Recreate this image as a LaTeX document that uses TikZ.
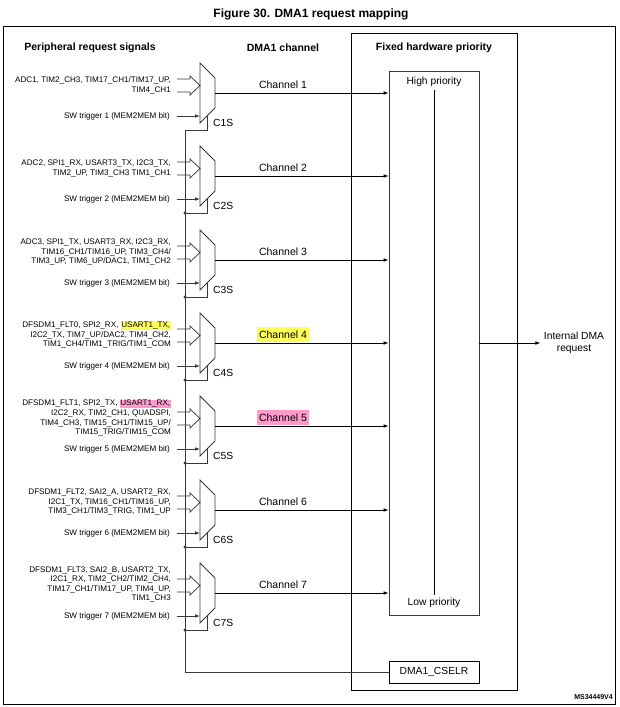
\documentclass[tikz,border=0pt]{standalone}
\usepackage{fontspec}
\setmainfont{Liberation Sans}
\usetikzlibrary{arrows.meta,calc,positioning}

\definecolor{hlyellow}{HTML}{FFFF55}
\definecolor{hlpink}{HTML}{FF99CC}
\definecolor{wiregray}{gray}{0.22}
\newcommand{\hlbox}[2]{{\setlength{\fboxsep}{0.6pt}\colorbox{#1}{#2}}}

\tikzset{
  sigtext/.style={font=\fontsize{8.1}{9.6}\selectfont, align=right, anchor=east, inner sep=0pt},
  chantext/.style={font=\fontsize{10.5}{12}\selectfont, inner xsep=2.5pt, inner ysep=0pt, minimum height=15pt},
  head/.style={font=\bfseries\fontsize{10.5}{12}\selectfont},
  plain/.style={font=\fontsize{10.3}{12.5}\selectfont},
  wire/.style={draw=wiregray, line width=0.75pt},
  tip/.style={-{Latex[length=5pt,width=3.6pt]}},
}

\begin{document}
\begin{tikzpicture}[x=1pt,y=-1pt]
\useasboundingbox (0,0) rectangle (620,707);

% Title and frame
\node[font=\bfseries\fontsize{12}{14}\selectfont] (title) at (311,14) {Figure 30. DMA1 request mapping};
\draw[line width=0.8pt] (3,26) rectangle (615,704);

% Column headings
\node[head] (hsig) at (90,48) {Peripheral request signals};
\node[head] (hchan) at (283,48) {DMA1 channel};
\node[head] (hprio) at (434,48) {Fixed hardware priority};

% Priority block
\draw[line width=0.7pt] (351,33) rectangle (517,690);
\node[wire, minimum width=90pt, minimum height=544pt, inner sep=0pt] (prio) at (434,343) {};
\node[plain] (high) at (434,82) {High priority};
\node[plain] (low) at (434,603) {Low priority};
\draw (high.south) -- (low.north);
\node[draw, line width=0.7pt, minimum width=90pt, minimum height=22pt, plain] (cselr) at (434,672) {DMA1\_CSELR};

% Output request
\node[plain, align=center] (req) at (574,343) {Internal DMA\\request};
\draw[tip, line width=0.7pt] (prio.east) -- (req.west);

% Peripheral requests
\node[sigtext] (sig1) at (171,85.5) {ADC1, TIM2\_CH3, TIM17\_CH1/TIM17\_UP,\\TIM4\_CH1};
\node[sigtext] (sig2) at (171,168.5) {ADC2, SPI1\_RX, USART3\_TX, I2C3\_TX,\\TIM2\_UP, TIM3\_CH3 TIM1\_CH1};
\node[sigtext] (sig3) at (171,252) {ADC3, SPI1\_TX, USART3\_RX, I2C3\_RX,\\TIM16\_CH1/TIM16\_UP, TIM3\_CH4/\\TIM3\_UP, TIM6\_UP/DAC1, TIM1\_CH2};
\node[sigtext] (sig4) at (171,335) {DFSDM1\_FLT0, SPI2\_RX, \hlbox{hlyellow}{USART1\_TX,}\\I2C2\_TX, TIM7\_UP/DAC2, TIM4\_CH2,\\TIM1\_CH4/TIM1\_TRIG/TIM1\_COM};
\node[sigtext] (sig5) at (171,418) {DFSDM1\_FLT1, SPI2\_TX, \hlbox{hlpink}{USART1\_RX,}\\I2C2\_RX, TIM2\_CH1, QUADSPI,\\TIM4\_CH3, TIM15\_CH1/TIM15\_UP/\\TIM15\_TRIG/TIM15\_COM};
\node[sigtext] (sig6) at (171,502) {DFSDM1\_FLT2, SAI2\_A, USART2\_RX,\\I2C1\_TX, TIM16\_CH1/TIM16\_UP,\\TIM3\_CH1/TIM3\_TRIG, TIM1\_UP};
\node[sigtext] (sig7) at (171,584.5) {DFSDM1\_FLT3, SAI2\_B, USART2\_TX,\\I2C1\_RX, TIM2\_CH2/TIM2\_CH4,\\TIM17\_CH1/TIM17\_UP, TIM4\_UP,\\TIM1\_CH3};

% Channel muxes
\foreach \i/\c/\hl in {1/93/white,2/176/white,3/260/white,4/343/hlyellow,5/426/hlpink,6/510/white,7/593/white} {
  \draw[wire] (200,\c-30) -- (215,\c-15) -- (215,\c+15) -- (200,\c+30) -- cycle;
  \draw[wire] (177,\c-14) -- (190,\c-14) -- (190,\c-17) -- (200,\c-7.5) -- (190,\c+2) -- (190,\c-1) -- (177,\c-1);
  \coordinate (out\i) at (215,\c);
  \coordinate (sel\i) at (185,\c+37);
  \node[sigtext] (sw\i) at (170,\c+23) {SW trigger \i{} (MEM2MEM bit)};
  \draw[wire, tip] ([xshift=7pt]sw\i.east) -- (200,\c+23);
  \draw[wire] (sel\i) -| (207,\c+22.5);
  \ifnum\i>1 \fill[wiregray] (sel\i) circle (1.6pt); \fi
  \node[plain, anchor=west, inner sep=0pt] (cs\i) at (213,\c+30) {C\i S};
  \draw[tip, line width=0.7pt] (out\i) -- (out\i -| prio.west);
  \node[chantext, fill=\hl] (ch\i) at (283,\c-8.5) {Channel \i};
}

% Selection bus
\draw[wire] (sel1) -- (sel1 |- cselr.west) -- (cselr.west);

\node[font=\bfseries\fontsize{7}{8}\selectfont, anchor=east, inner sep=0pt] (code) at (613,697) {MS34449V4};
\end{tikzpicture}
\end{document}
